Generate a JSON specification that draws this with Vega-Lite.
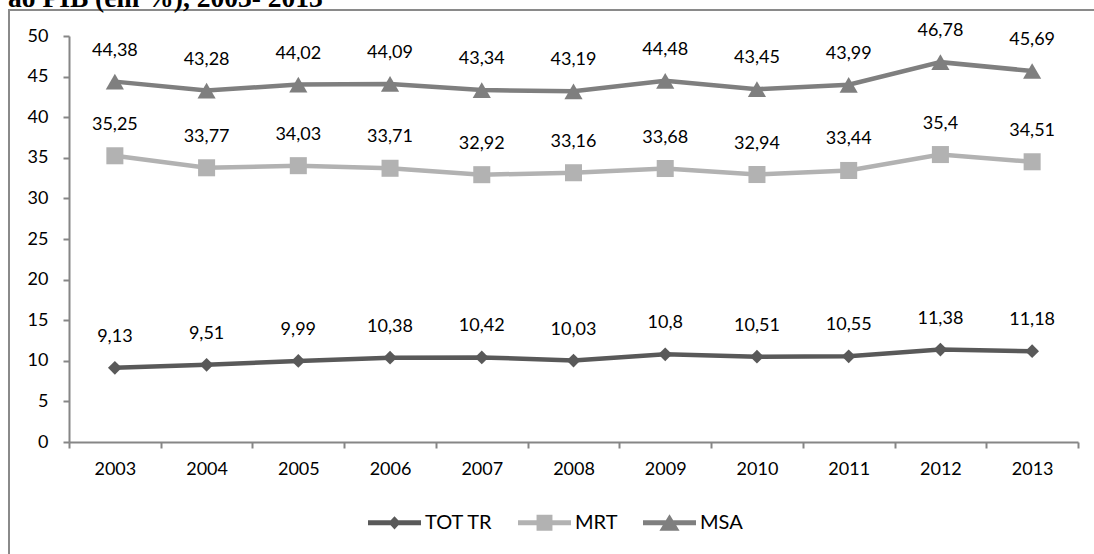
{
  "$schema": "https://vega.github.io/schema/vega-lite/v6.json",
  "autosize": "none",
  "padding": {"left": 9, "top": 10, "right": 0, "bottom": 0},
  "width": 1090,
  "height": 560,
  "title": {
    "text": "ao PIB (em %), 2003- 2013",
    "anchor": "start",
    "frame": "group",
    "font": "Liberation Serif",
    "fontSize": 27.5,
    "fontWeight": "bold",
    "color": "black",
    "baseline": "alphabetic",
    "offset": 0,
    "dx": -1,
    "dy": 24
  },
  "config": {
    "view": {"stroke": "#8a8a8a", "strokeWidth": 2},
    "font": "Lato"
  },
  "data": {
    "values": [
      {"year": "2003", "series": "TOT TR", "value": 9.13, "label": "9,13"},
      {"year": "2004", "series": "TOT TR", "value": 9.51, "label": "9,51"},
      {"year": "2005", "series": "TOT TR", "value": 9.99, "label": "9,99"},
      {"year": "2006", "series": "TOT TR", "value": 10.38, "label": "10,38"},
      {"year": "2007", "series": "TOT TR", "value": 10.42, "label": "10,42"},
      {"year": "2008", "series": "TOT TR", "value": 10.03, "label": "10,03"},
      {"year": "2009", "series": "TOT TR", "value": 10.8, "label": "10,8"},
      {"year": "2010", "series": "TOT TR", "value": 10.51, "label": "10,51"},
      {"year": "2011", "series": "TOT TR", "value": 10.55, "label": "10,55"},
      {"year": "2012", "series": "TOT TR", "value": 11.38, "label": "11,38"},
      {"year": "2013", "series": "TOT TR", "value": 11.18, "label": "11,18"},
      {"year": "2003", "series": "MRT", "value": 35.25, "label": "35,25"},
      {"year": "2004", "series": "MRT", "value": 33.77, "label": "33,77"},
      {"year": "2005", "series": "MRT", "value": 34.03, "label": "34,03"},
      {"year": "2006", "series": "MRT", "value": 33.71, "label": "33,71"},
      {"year": "2007", "series": "MRT", "value": 32.92, "label": "32,92"},
      {"year": "2008", "series": "MRT", "value": 33.16, "label": "33,16"},
      {"year": "2009", "series": "MRT", "value": 33.68, "label": "33,68"},
      {"year": "2010", "series": "MRT", "value": 32.94, "label": "32,94"},
      {"year": "2011", "series": "MRT", "value": 33.44, "label": "33,44"},
      {"year": "2012", "series": "MRT", "value": 35.4, "label": "35,4"},
      {"year": "2013", "series": "MRT", "value": 34.51, "label": "34,51"},
      {"year": "2003", "series": "MSA", "value": 44.38, "label": "44,38"},
      {"year": "2004", "series": "MSA", "value": 43.28, "label": "43,28"},
      {"year": "2005", "series": "MSA", "value": 44.02, "label": "44,02"},
      {"year": "2006", "series": "MSA", "value": 44.09, "label": "44,09"},
      {"year": "2007", "series": "MSA", "value": 43.34, "label": "43,34"},
      {"year": "2008", "series": "MSA", "value": 43.19, "label": "43,19"},
      {"year": "2009", "series": "MSA", "value": 44.48, "label": "44,48"},
      {"year": "2010", "series": "MSA", "value": 43.45, "label": "43,45"},
      {"year": "2011", "series": "MSA", "value": 43.99, "label": "43,99"},
      {"year": "2012", "series": "MSA", "value": 46.78, "label": "46,78"},
      {"year": "2013", "series": "MSA", "value": 45.69, "label": "45,69"}
    ]
  },
  "encoding": {
    "x": {
      "field": "year",
      "type": "ordinal",
      "scale": {"type": "band", "range": [60, 1069], "paddingInner": 0, "paddingOuter": 0},
      "axis": {
        "title": null,
        "offset": -128,
        "labelAngle": 0,
        "labelFont": "Lato",
        "labelFontSize": 18,
        "labelColor": "black",
        "labelPadding": 12,
        "domainColor": "#868686",
        "domainWidth": 2,
        "tickColor": "#868686",
        "tickWidth": 2,
        "tickSize": 6,
        "tickBand": "extent",
        "grid": false
      }
    },
    "y": {
      "field": "value",
      "type": "quantitative",
      "scale": {"domain": [0, 50], "range": [432, 26], "nice": false, "zero": true},
      "axis": {
        "title": null,
        "offset": -60,
        "values": [0, 5, 10, 15, 20, 25, 30, 35, 40, 45, 50],
        "labelFont": "Lato",
        "labelFontSize": 18,
        "labelColor": "black",
        "labelPadding": 15,
        "domainColor": "#868686",
        "domainWidth": 2,
        "tickColor": "#868686",
        "tickWidth": 2,
        "tickSize": 6,
        "grid": false
      }
    },
    "color": {
      "field": "series",
      "type": "nominal",
      "scale": {"domain": ["TOT TR", "MRT", "MSA"], "range": ["#595959", "#b2b2b2", "#7f7f7f"]},
      "legend": {
        "title": null,
        "orient": "none",
        "legendX": 359,
        "legendY": 486,
        "direction": "horizontal",
        "columns": 3,
        "padding": 0,
        "symbolSize": 2809,
        "symbolStrokeWidth": 0,
        "symbolOpacity": 1,
        "labelFont": "Lato",
        "labelFontSize": 20,
        "labelColor": "black",
        "labelOffset": 4,
        "columnPadding": 25,
        "encode": {
          "symbols": {
            "update": {
              "shape": {"signal": "datum.value === 'TOT TR' ? 'M-1,-0.09H1V0.09H-1Z M-0.23,0L0,-0.25L0.23,0L0,0.25Z' : datum.value === 'MRT' ? 'M-1,-0.09H1V0.09H-1Z M-0.3,-0.3H0.3V0.3H-0.3Z' : 'M-1,-0.09H1V0.09H-1Z M0,-0.32L0.38,0.3H-0.38Z'"},
              "fill": {"signal": "scale('color', datum.value)"},
              "stroke": {"value": "transparent"},
              "opacity": {"value": 1}
            }
          }
        }
      }
    }
  },
  "layer": [
    {
      "mark": {"type": "line", "strokeWidth": 4.5}
    },
    {
      "transform": [{"filter": "datum.series === 'TOT TR'"}],
      "mark": {"type": "point", "filled": true, "opacity": 1, "shape": "diamond", "size": 190}
    },
    {
      "transform": [{"filter": "datum.series === 'MRT'"}],
      "mark": {"type": "point", "filled": true, "opacity": 1, "shape": "square", "size": 290}
    },
    {
      "transform": [{"filter": "datum.series === 'MSA'"}],
      "mark": {"type": "point", "filled": true, "opacity": 1, "shape": "triangle-up", "size": 330}
    },
    {
      "mark": {"type": "text", "dy": -31, "baseline": "middle", "font": "Lato", "fontSize": 18},
      "encoding": {
        "text": {"field": "label"},
        "color": {"value": "black"}
      }
    }
  ]
}
